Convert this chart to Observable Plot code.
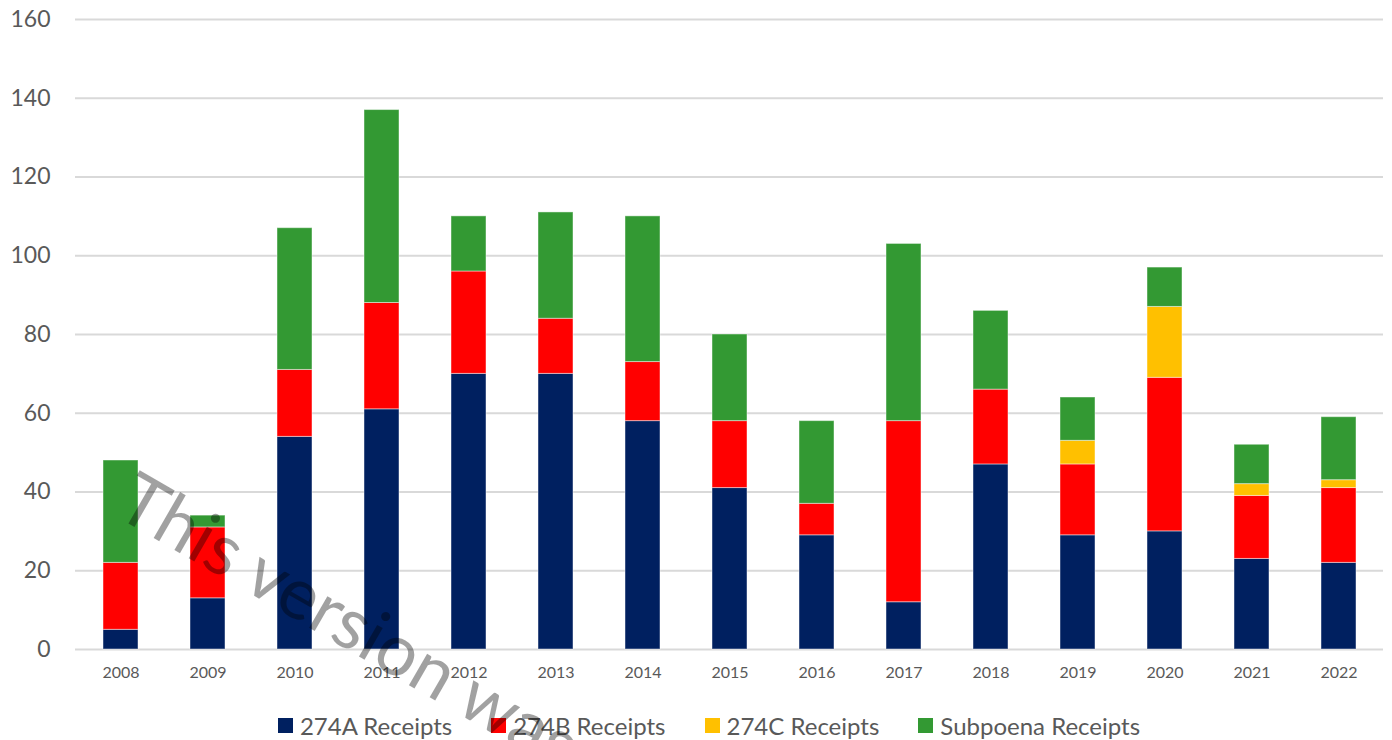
<!DOCTYPE html>
<html>
<head>
<meta charset="utf-8">
<script src="https://cdn.jsdelivr.net/npm/d3@7"></script>
<script src="https://cdn.jsdelivr.net/npm/@observablehq/plot@0.6"></script>
<style>
  html, body { margin: 0; padding: 0; background: #fff; width: 1392px; height: 740px; overflow: hidden; position: relative; }
  #chart svg { display: block; }
  #legend { position: absolute; left: 0; top: 711px; width: 1392px; box-sizing: border-box; padding-left: 26px; display: flex; justify-content: center; gap: 39px; font-family: Lato, sans-serif; font-size: 24px; line-height: 29px; color: #595959; }
  #legend .item { display: flex; align-items: center; gap: 7px; }
  #legend .sw { width: 15px; height: 15px; display: inline-block; }
  #wm { position: absolute; left: 145px; top: 459px; transform-origin: 0 0; transform: rotate(30deg); font-family: Lato, sans-serif; font-weight: 400; font-size: 72px; line-height: 72px; color: rgba(0,0,0,0.37); white-space: nowrap; pointer-events: none; }
</style>
</head>
<body>
<div id="chart"></div>
<div id="legend"></div>
<div id="wm">This version was</div>
<script>
const years = ["2008","2009","2010","2011","2012","2013","2014","2015","2016","2017","2018","2019","2020","2021","2022"];
const seriesNames = ["274A Receipts","274B Receipts","274C Receipts","Subpoena Receipts"];
const seriesColors = ["#002060","#ff0000","#ffc000","#339933"];
const receipts274A = [5,13,54,61,70,70,58,41,29,12,47,29,30,23,22];
const receipts274B = [17,18,17,27,26,14,15,17,8,46,19,18,39,16,19];
const receipts274C = [0,0,0,0,0,0,0,0,0,0,0,6,18,3,2];
const receiptsSubpoena = [26,3,36,49,14,27,37,22,21,45,20,11,10,10,16];
const yTicks = [0,20,40,60,80,100,120,140,160];

const allSeries = [receipts274A, receipts274B, receipts274C, receiptsSubpoena];
const rows = [];
years.forEach((y, i) => {
  allSeries.forEach((arr, s) => {
    rows.push({year: y, series: seriesNames[s], value: arr[i]});
  });
});

const chart = Plot.plot({
  width: 1392,
  height: 690,
  marginTop: 19,
  marginBottom: 41,
  marginLeft: 75,
  marginRight: 9,
  style: {fontFamily: "Lato, sans-serif", color: "#595959", background: "#fff"},
  x: {domain: years, paddingInner: 0.6, paddingOuter: 0.3, label: null},
  y: {domain: [0,160], ticks: yTicks, label: null},
  color: {domain: seriesNames, range: seriesColors},
  marks: [
    Plot.gridY(yTicks, {stroke: "#d9d9d9", strokeOpacity: 1, strokeWidth: 2}),
    Plot.barY(rows, {x: "year", y: "value", fill: "series", order: seriesNames, stroke: "#ffffff", strokeOpacity: 0.45, strokeWidth: 1}),
    Plot.axisX({tickSize: 0, tickPadding: 17, fontSize: 16, label: null}),
    Plot.axisY(yTicks, {tickSize: 0, tickPadding: 25, fontSize: 23, label: null})
  ]
});
document.getElementById("chart").appendChild(chart);

const legend = document.getElementById("legend");
seriesNames.forEach((n, i) => {
  const it = document.createElement("div");
  it.className = "item";
  const sw = document.createElement("span");
  sw.className = "sw";
  sw.style.background = seriesColors[i];
  const tx = document.createElement("span");
  tx.textContent = n;
  it.appendChild(sw);
  it.appendChild(tx);
  legend.appendChild(it);
});
</script>
</body>
</html>
